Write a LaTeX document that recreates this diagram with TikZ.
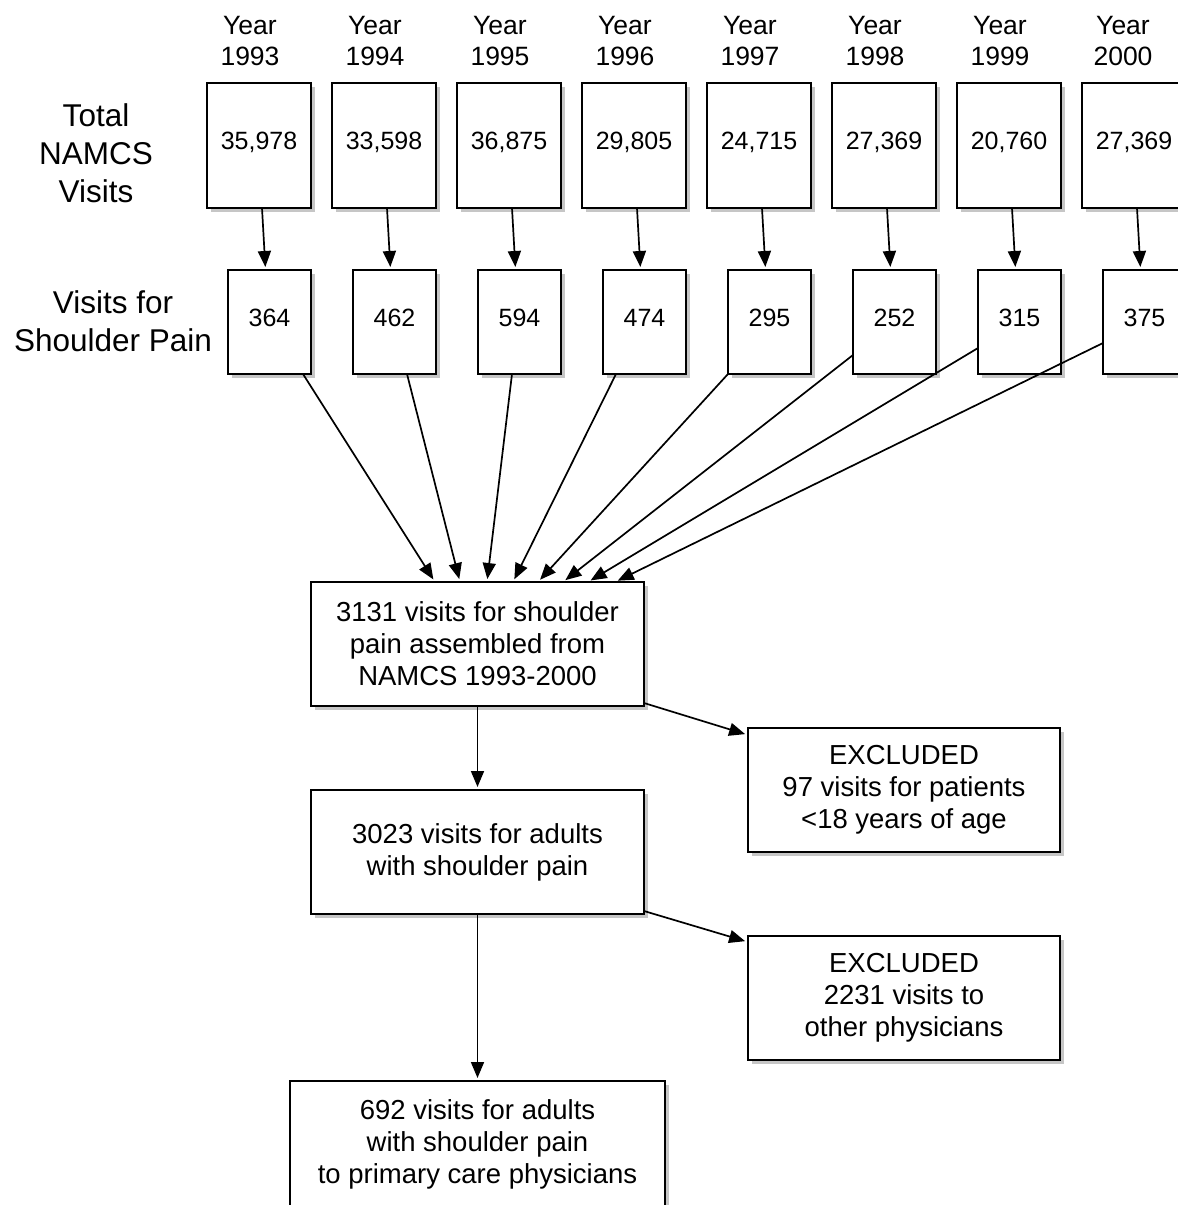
\documentclass[tikz,border=0pt]{standalone}
\usepackage{fontspec}
\setmainfont{Liberation Sans}
\usepackage{tikz}
\usetikzlibrary{arrows.meta,positioning,shadows}

\begin{document}
\begin{tikzpicture}[->,>={Triangle[length=16pt,width=13pt]},x=1pt,y=-1pt,node distance=21pt,line width=1.7pt]
  \tikzstyle{box}=[draw,fill=white,line width=2pt,inner sep=0pt,outer sep=0pt,drop shadow={shadow xshift=3.5pt,shadow yshift=-3.5pt,opacity=.45}]
  \tikzstyle{tot}=[box,minimum width=104pt,minimum height=125pt,text depth=10pt,font=\fontsize{25}{30}\selectfont]
  \tikzstyle{sp}=[box,minimum width=83pt,minimum height=104pt,text depth=8pt,font=\fontsize{25}{30}\selectfont]
  \tikzstyle{big}=[box,align=center,minimum height=124pt,font=\fontsize{27.5}{32}\selectfont]
  \tikzstyle{yr}=[align=center,inner sep=0pt,font=\fontsize{26.5}{31}\selectfont]
  \tikzstyle{lbl}=[align=center,inner sep=0pt,font=\fontsize{31.5}{38}\selectfont]
  \tikzstyle{e}=[shorten >=3pt]

  \useasboundingbox (0,0) rectangle (1178,1205);

  \node[tot] (T93) at (259,145.5)  {35,978};
  \node[tot] (T94) [right=of T93]  {33,598};
  \node[tot] (T95) [right=of T94]  {36,875};
  \node[tot] (T96) [right=of T95]  {29,805};
  \node[tot] (T97) [right=of T96]  {24,715};
  \node[tot] (T98) [right=of T97]  {27,369};
  \node[tot] (T99) [right=of T98]  {20,760};
  \node[tot] (T00) [right=of T99]  {27,369};

  \node[sp] (S93) [below=62pt of T93.south east,anchor=north east] {364};
  \node[sp] (S94) [below=62pt of T94.south east,anchor=north east] {462};
  \node[sp] (S95) [below=62pt of T95.south east,anchor=north east] {594};
  \node[sp] (S96) [below=62pt of T96.south east,anchor=north east] {474};
  \node[sp] (S97) [below=62pt of T97.south east,anchor=north east] {295};
  \node[sp] (S98) [below=62pt of T98.south east,anchor=north east] {252};
  \node[sp] (S99) [below=62pt of T99.south east,anchor=north east] {315};
  \node[sp] (S00) [below=62pt of T00.south east,anchor=north east] {375};

  \node[yr] (Y93) at ([xshift=-9pt,yshift=42pt]T93.north)  {Year\\1993};
  \node[yr] (Y94) at ([xshift=-9pt,yshift=42pt]T94.north)  {Year\\1994};
  \node[yr] (Y95) at ([xshift=-9pt,yshift=42pt]T95.north)  {Year\\1995};
  \node[yr] (Y96) at ([xshift=-9pt,yshift=42pt]T96.north)  {Year\\1996};
  \node[yr] (Y97) at ([xshift=-9pt,yshift=42pt]T97.north)  {Year\\1997};
  \node[yr] (Y98) at ([xshift=-9pt,yshift=42pt]T98.north)  {Year\\1998};
  \node[yr] (Y99) at ([xshift=-9pt,yshift=42pt]T99.north)  {Year\\1999};
  \node[yr] (Y00) at ([xshift=-11pt,yshift=42pt]T00.north) {Year\\2000};

  \node[lbl] (LT) at (96,153)  {Total\\NAMCS\\Visits};
  \node[lbl] (LS) at (113,321) {Visits for\\Shoulder Pain};

  \node[big,minimum width=333pt] (M)  at (477.5,644)     {3131 visits for shoulder\\pain assembled from\\NAMCS 1993-2000};
  \node[big,minimum width=333pt] (B)  [below=84pt of M]  {3023 visits for adults\\with shoulder pain};
  \node[big,minimum width=375pt,minimum height=126pt] (P) [below=167pt of B] {692 visits for adults\\with shoulder pain\\to primary care physicians};
  \node[big,minimum width=312pt] (X1) at (904,790)       {EXCLUDED\\97 visits for patients\\<18 years of age};
  \node[big,minimum width=312pt] (X2) [below=84pt of X1] {EXCLUDED\\2231 visits to\\other physicians};

  \path ([xshift=3pt]T93.south) edge [e] ([xshift=-4pt]S93.north)
        ([xshift=3pt]T94.south) edge [e] ([xshift=-4pt]S94.north)
        ([xshift=3pt]T95.south) edge [e] ([xshift=-4pt]S95.north)
        ([xshift=3pt]T96.south) edge [e] ([xshift=-4pt]S96.north)
        ([xshift=3pt]T97.south) edge [e] ([xshift=-4pt]S97.north)
        ([xshift=3pt]T98.south) edge [e] ([xshift=-4pt]S98.north)
        ([xshift=3pt]T99.south) edge [e] ([xshift=-4pt]S99.north)
        ([xshift=3pt]T00.south) edge [e] ([xshift=-4pt]S00.north);

  \path ([xshift=-8pt]S93.south east)  edge [e] ([xshift=124pt]M.north west)
        ([xshift=-29pt]S94.south east) edge [e] ([xshift=149pt]M.north west)
        ([xshift=-49pt]S95.south east) edge [e] ([xshift=176pt]M.north west)
        ([xshift=13pt]S96.south west)  edge [e] ([xshift=202pt]M.north west)
        (S97.south west)               edge [e] ([xshift=227pt]M.north west)
        ([yshift=19pt]S98.south west)  edge [e] ([xshift=252pt]M.north west)
        ([yshift=26pt]S99.south west)  edge [e] ([xshift=277pt]M.north west)
        ([yshift=31pt]S00.south west)  edge [e] ([xshift=304pt]M.north west);

  \path (M) edge [e] (B)
        (B) edge [e] (P)
        ([yshift=3pt]M.south east) edge [e] ([yshift=-7pt]X1.north west)
        ([yshift=3pt]B.south east) edge [e] ([yshift=-6pt]X2.north west);
\end{tikzpicture}
\end{document}
